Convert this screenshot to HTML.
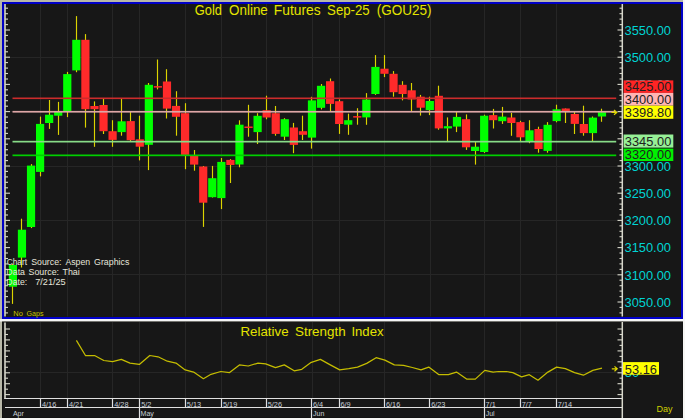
<!DOCTYPE html>
<html><head><meta charset="utf-8"><style>
html,body{margin:0;padding:0;background:#b8b8a8;}
body{width:685px;height:420px;overflow:hidden;}
svg{display:block;font-family:"Liberation Sans",sans-serif;}
</style></head><body>
<svg width="685" height="420" viewBox="0 0 685 420">

<rect x="0" y="0" width="685" height="420" fill="#b8b8a8"/>
<rect x="683" y="0" width="2" height="420" fill="#f6f6f4"/>
<rect x="0" y="418" width="685" height="2" fill="#f6f6f4"/>
<rect x="2" y="2" width="681" height="317" fill="#0000c8"/>
<rect x="4" y="4" width="677" height="313" fill="#171717"/>
<rect x="0" y="319" width="684" height="2.5" fill="#f4f4f4"/>
<rect x="2" y="321.5" width="681" height="96.5" fill="#101010"/>
<rect x="3" y="322" width="679.5" height="95.5" fill="#171717"/>
<g stroke="#262626" stroke-width="1"><line x1="40.5" y1="4" x2="40.5" y2="316.5" /><line x1="67.5" y1="4" x2="67.5" y2="316.5" /><line x1="112.5" y1="4" x2="112.5" y2="316.5" /><line x1="139.5" y1="4" x2="139.5" y2="316.5" /><line x1="185.5" y1="4" x2="185.5" y2="316.5" /><line x1="221.5" y1="4" x2="221.5" y2="316.5" /><line x1="266.5" y1="4" x2="266.5" y2="316.5" /><line x1="312.5" y1="4" x2="312.5" y2="316.5" /><line x1="339.5" y1="4" x2="339.5" y2="316.5" /><line x1="384.5" y1="4" x2="384.5" y2="316.5" /><line x1="430.5" y1="4" x2="430.5" y2="316.5" /><line x1="484.5" y1="4" x2="484.5" y2="316.5" /><line x1="520.5" y1="4" x2="520.5" y2="316.5" /><line x1="556.5" y1="4" x2="556.5" y2="316.5" /><line x1="6" y1="57.5" x2="622" y2="57.5" /><line x1="6" y1="111.5" x2="622" y2="111.5" /><line x1="6" y1="166.5" x2="622" y2="166.5" /><line x1="6" y1="220.5" x2="622" y2="220.5" /><line x1="6" y1="274.5" x2="622" y2="274.5" /><line x1="40.5" y1="322" x2="40.5" y2="398.6" /><line x1="67.5" y1="322" x2="67.5" y2="398.6" /><line x1="112.5" y1="322" x2="112.5" y2="398.6" /><line x1="139.5" y1="322" x2="139.5" y2="398.6" /><line x1="185.5" y1="322" x2="185.5" y2="398.6" /><line x1="221.5" y1="322" x2="221.5" y2="398.6" /><line x1="266.5" y1="322" x2="266.5" y2="398.6" /><line x1="312.5" y1="322" x2="312.5" y2="398.6" /><line x1="339.5" y1="322" x2="339.5" y2="398.6" /><line x1="384.5" y1="322" x2="384.5" y2="398.6" /><line x1="430.5" y1="322" x2="430.5" y2="398.6" /><line x1="484.5" y1="322" x2="484.5" y2="398.6" /><line x1="520.5" y1="322" x2="520.5" y2="398.6" /><line x1="556.5" y1="322" x2="556.5" y2="398.6" /><line x1="6" y1="372.5" x2="622" y2="372.5" /></g>
<line x1="12.50" y1="264.0" x2="12.50" y2="303.9" stroke="#dcd400" stroke-width="1.15"/><line x1="21.50" y1="218.7" x2="21.50" y2="267.5" stroke="#dcd400" stroke-width="1.15"/><line x1="31.50" y1="164.1" x2="31.50" y2="228.1" stroke="#dcd400" stroke-width="1.15"/><line x1="40.50" y1="116.6" x2="40.50" y2="176.4" stroke="#dcd400" stroke-width="1.15"/><line x1="49.50" y1="100.0" x2="49.50" y2="128.9" stroke="#dcd400" stroke-width="1.15"/><line x1="58.50" y1="101.9" x2="58.50" y2="134.9" stroke="#dcd400" stroke-width="1.15"/><line x1="67.50" y1="71.9" x2="67.50" y2="117.1" stroke="#dcd400" stroke-width="1.15"/><line x1="76.50" y1="16.1" x2="76.50" y2="72.2" stroke="#dcd400" stroke-width="1.15"/><line x1="85.50" y1="34.1" x2="85.50" y2="127.6" stroke="#dcd400" stroke-width="1.15"/><line x1="94.50" y1="101.4" x2="94.50" y2="146.8" stroke="#dcd400" stroke-width="1.15"/><line x1="103.50" y1="98.2" x2="103.50" y2="134.0" stroke="#dcd400" stroke-width="1.15"/><line x1="112.50" y1="120.2" x2="112.50" y2="146.8" stroke="#dcd400" stroke-width="1.15"/><line x1="121.50" y1="98.4" x2="121.50" y2="135.7" stroke="#dcd400" stroke-width="1.15"/><line x1="130.50" y1="112.0" x2="130.50" y2="141.2" stroke="#dcd400" stroke-width="1.15"/><line x1="139.50" y1="115.7" x2="139.50" y2="160.4" stroke="#dcd400" stroke-width="1.15"/><line x1="148.50" y1="83.0" x2="148.50" y2="170.1" stroke="#dcd400" stroke-width="1.15"/><line x1="157.50" y1="59.5" x2="157.50" y2="89.4" stroke="#dcd400" stroke-width="1.15"/><line x1="166.50" y1="69.2" x2="166.50" y2="118.5" stroke="#dcd400" stroke-width="1.15"/><line x1="176.50" y1="91.2" x2="176.50" y2="135.7" stroke="#dcd400" stroke-width="1.15"/><line x1="185.50" y1="103.2" x2="185.50" y2="169.2" stroke="#dcd400" stroke-width="1.15"/><line x1="194.50" y1="150.0" x2="194.50" y2="170.7" stroke="#dcd400" stroke-width="1.15"/><line x1="203.50" y1="166.0" x2="203.50" y2="226.9" stroke="#dcd400" stroke-width="1.15"/><line x1="212.50" y1="165.9" x2="212.50" y2="197.5" stroke="#dcd400" stroke-width="1.15"/><line x1="221.50" y1="158.0" x2="221.50" y2="209.1" stroke="#dcd400" stroke-width="1.15"/><line x1="230.50" y1="159.1" x2="230.50" y2="183.0" stroke="#dcd400" stroke-width="1.15"/><line x1="239.50" y1="120.3" x2="239.50" y2="167.3" stroke="#dcd400" stroke-width="1.15"/><line x1="248.50" y1="104.8" x2="248.50" y2="136.7" stroke="#dcd400" stroke-width="1.15"/><line x1="257.50" y1="113.2" x2="257.50" y2="144.0" stroke="#dcd400" stroke-width="1.15"/><line x1="266.50" y1="95.7" x2="266.50" y2="119.3" stroke="#dcd400" stroke-width="1.15"/><line x1="275.50" y1="106.0" x2="275.50" y2="135.7" stroke="#dcd400" stroke-width="1.15"/><line x1="284.50" y1="118.2" x2="284.50" y2="140.0" stroke="#dcd400" stroke-width="1.15"/><line x1="293.50" y1="122.9" x2="293.50" y2="153.2" stroke="#dcd400" stroke-width="1.15"/><line x1="302.50" y1="115.7" x2="302.50" y2="140.0" stroke="#dcd400" stroke-width="1.15"/><line x1="311.50" y1="96.8" x2="311.50" y2="148.6" stroke="#dcd400" stroke-width="1.15"/><line x1="321.50" y1="84.0" x2="321.50" y2="109.4" stroke="#dcd400" stroke-width="1.15"/><line x1="330.50" y1="78.5" x2="330.50" y2="111.1" stroke="#dcd400" stroke-width="1.15"/><line x1="339.50" y1="99.4" x2="339.50" y2="133.9" stroke="#dcd400" stroke-width="1.15"/><line x1="348.50" y1="113.7" x2="348.50" y2="134.8" stroke="#dcd400" stroke-width="1.15"/><line x1="357.50" y1="108.2" x2="357.50" y2="124.7" stroke="#dcd400" stroke-width="1.15"/><line x1="366.50" y1="93.1" x2="366.50" y2="124.8" stroke="#dcd400" stroke-width="1.15"/><line x1="375.50" y1="55.1" x2="375.50" y2="94.9" stroke="#dcd400" stroke-width="1.15"/><line x1="384.50" y1="55.1" x2="384.50" y2="77.1" stroke="#dcd400" stroke-width="1.15"/><line x1="393.50" y1="71.1" x2="393.50" y2="96.7" stroke="#dcd400" stroke-width="1.15"/><line x1="402.50" y1="81.2" x2="402.50" y2="100.4" stroke="#dcd400" stroke-width="1.15"/><line x1="411.50" y1="83.0" x2="411.50" y2="111.4" stroke="#dcd400" stroke-width="1.15"/><line x1="420.50" y1="94.9" x2="420.50" y2="115.6" stroke="#dcd400" stroke-width="1.15"/><line x1="429.50" y1="96.7" x2="429.50" y2="115.1" stroke="#dcd400" stroke-width="1.15"/><line x1="438.50" y1="85.7" x2="438.50" y2="129.7" stroke="#dcd400" stroke-width="1.15"/><line x1="447.50" y1="117.4" x2="447.50" y2="141.2" stroke="#dcd400" stroke-width="1.15"/><line x1="456.50" y1="111.9" x2="456.50" y2="132.1" stroke="#dcd400" stroke-width="1.15"/><line x1="466.50" y1="114.4" x2="466.50" y2="149.9" stroke="#dcd400" stroke-width="1.15"/><line x1="475.50" y1="142.0" x2="475.50" y2="164.6" stroke="#dcd400" stroke-width="1.15"/><line x1="484.50" y1="114.7" x2="484.50" y2="152.9" stroke="#dcd400" stroke-width="1.15"/><line x1="493.50" y1="108.9" x2="493.50" y2="128.5" stroke="#dcd400" stroke-width="1.15"/><line x1="502.50" y1="106.9" x2="502.50" y2="123.9" stroke="#dcd400" stroke-width="1.15"/><line x1="511.50" y1="112.9" x2="511.50" y2="135.8" stroke="#dcd400" stroke-width="1.15"/><line x1="520.50" y1="120.8" x2="520.50" y2="141.3" stroke="#dcd400" stroke-width="1.15"/><line x1="529.50" y1="120.2" x2="529.50" y2="143.2" stroke="#dcd400" stroke-width="1.15"/><line x1="538.50" y1="126.7" x2="538.50" y2="152.7" stroke="#dcd400" stroke-width="1.15"/><line x1="547.50" y1="122.1" x2="547.50" y2="152.7" stroke="#dcd400" stroke-width="1.15"/><line x1="556.50" y1="104.7" x2="556.50" y2="122.3" stroke="#dcd400" stroke-width="1.15"/><line x1="565.50" y1="108.5" x2="565.50" y2="123.0" stroke="#dcd400" stroke-width="1.15"/><line x1="574.50" y1="112.0" x2="574.50" y2="134.0" stroke="#dcd400" stroke-width="1.15"/><line x1="583.50" y1="105.7" x2="583.50" y2="135.7" stroke="#dcd400" stroke-width="1.15"/><line x1="592.50" y1="116.5" x2="592.50" y2="141.0" stroke="#dcd400" stroke-width="1.15"/><line x1="601.50" y1="108.7" x2="601.50" y2="121.8" stroke="#dcd400" stroke-width="1.15"/><rect x="8.80" y="265.0" width="8.2" height="21.7" fill="#00ff00"/><rect x="17.86" y="229.7" width="8.2" height="27.9" fill="#00ff00"/><rect x="26.93" y="165.6" width="8.2" height="61.4" fill="#00ff00"/><rect x="35.99" y="123.9" width="8.2" height="48.0" fill="#00ff00"/><rect x="45.05" y="114.7" width="8.2" height="8.3" fill="#00ff00"/><rect x="54.12" y="112.0" width="8.2" height="3.7" fill="#00ff00"/><rect x="63.18" y="74.1" width="8.2" height="37.0" fill="#00ff00"/><rect x="72.24" y="39.8" width="8.2" height="30.6" fill="#00ff00"/><rect x="81.30" y="39.8" width="8.2" height="69.4" fill="#ff2a2a"/><rect x="90.37" y="106.0" width="8.2" height="3.2" fill="#ff2a2a"/><rect x="99.43" y="105.0" width="8.2" height="26.2" fill="#ff2a2a"/><rect x="108.49" y="131.2" width="8.2" height="8.7" fill="#ff2a2a"/><rect x="117.56" y="121.3" width="8.2" height="10.8" fill="#00ff00"/><rect x="126.62" y="121.1" width="8.2" height="19.1" fill="#ff2a2a"/><rect x="135.68" y="139.3" width="8.2" height="7.4" fill="#ff2a2a"/><rect x="144.75" y="84.8" width="8.2" height="60.0" fill="#00ff00"/><rect x="153.81" y="86.1" width="8.2" height="1.5" fill="#ff2a2a"/><rect x="162.87" y="81.5" width="8.2" height="27.1" fill="#ff2a2a"/><rect x="171.93" y="105.9" width="8.2" height="10.9" fill="#ff2a2a"/><rect x="181.00" y="113.2" width="8.2" height="41.7" fill="#ff2a2a"/><rect x="190.06" y="155.8" width="8.2" height="8.8" fill="#ff2a2a"/><rect x="199.12" y="166.5" width="8.2" height="36.2" fill="#ff2a2a"/><rect x="208.19" y="178.2" width="8.2" height="19.0" fill="#00ff00"/><rect x="217.25" y="161.9" width="8.2" height="36.2" fill="#00ff00"/><rect x="226.31" y="159.9" width="8.2" height="5.1" fill="#ff2a2a"/><rect x="235.38" y="124.7" width="8.2" height="39.8" fill="#00ff00"/><rect x="244.44" y="126.5" width="8.2" height="1.5" fill="#ff2a2a"/><rect x="253.50" y="115.8" width="8.2" height="16.3" fill="#00ff00"/><rect x="262.56" y="110.2" width="8.2" height="7.3" fill="#ff2a2a"/><rect x="271.63" y="113.2" width="8.2" height="20.7" fill="#ff2a2a"/><rect x="280.69" y="119.2" width="8.2" height="17.5" fill="#00ff00"/><rect x="289.75" y="127.5" width="8.2" height="17.4" fill="#ff2a2a"/><rect x="298.82" y="131.2" width="8.2" height="3.6" fill="#ff2a2a"/><rect x="307.88" y="100.4" width="8.2" height="37.2" fill="#00ff00"/><rect x="316.94" y="85.8" width="8.2" height="22.0" fill="#00ff00"/><rect x="326.00" y="81.2" width="8.2" height="22.7" fill="#ff2a2a"/><rect x="335.07" y="101.2" width="8.2" height="22.8" fill="#ff2a2a"/><rect x="344.13" y="120.2" width="8.2" height="4.5" fill="#00ff00"/><rect x="353.19" y="116.1" width="8.2" height="1.5" fill="#ff2a2a"/><rect x="362.26" y="99.5" width="8.2" height="17.9" fill="#00ff00"/><rect x="371.32" y="66.9" width="8.2" height="27.1" fill="#00ff00"/><rect x="380.38" y="68.7" width="8.2" height="5.1" fill="#ff2a2a"/><rect x="389.45" y="73.8" width="8.2" height="18.4" fill="#ff2a2a"/><rect x="398.51" y="84.8" width="8.2" height="9.2" fill="#ff2a2a"/><rect x="407.57" y="90.3" width="8.2" height="9.2" fill="#ff2a2a"/><rect x="416.63" y="96.7" width="8.2" height="11.0" fill="#ff2a2a"/><rect x="425.70" y="101.0" width="8.2" height="9.1" fill="#00ff00"/><rect x="434.76" y="95.8" width="8.2" height="32.6" fill="#ff2a2a"/><rect x="443.82" y="126.2" width="8.2" height="2.2" fill="#00ff00"/><rect x="452.89" y="116.9" width="8.2" height="9.7" fill="#00ff00"/><rect x="461.95" y="119.2" width="8.2" height="28.1" fill="#ff2a2a"/><rect x="471.01" y="146.7" width="8.2" height="4.3" fill="#00ff00"/><rect x="480.08" y="115.7" width="8.2" height="36.3" fill="#00ff00"/><rect x="489.14" y="115.1" width="8.2" height="5.1" fill="#ff2a2a"/><rect x="498.20" y="116.6" width="8.2" height="4.6" fill="#00ff00"/><rect x="507.26" y="117.5" width="8.2" height="5.5" fill="#ff2a2a"/><rect x="516.33" y="122.1" width="8.2" height="15.2" fill="#ff2a2a"/><rect x="525.39" y="130.3" width="8.2" height="11.0" fill="#00ff00"/><rect x="534.45" y="129.0" width="8.2" height="20.0" fill="#ff2a2a"/><rect x="543.52" y="124.8" width="8.2" height="26.1" fill="#00ff00"/><rect x="552.58" y="109.3" width="8.2" height="11.8" fill="#00ff00"/><rect x="561.64" y="108.5" width="8.2" height="2.7" fill="#ff2a2a"/><rect x="570.71" y="114.0" width="8.2" height="9.9" fill="#ff2a2a"/><rect x="579.77" y="124.0" width="8.2" height="9.1" fill="#ff2a2a"/><rect x="588.83" y="117.6" width="8.2" height="15.5" fill="#00ff00"/><rect x="597.89" y="112.2" width="8.2" height="4.3" fill="#00ff00"/>
<rect x="12.5" y="97.5" width="603.7" height="1.6" fill="#cc2c2c"/>
<rect x="12.5" y="110.9" width="603.7" height="1.7" fill="#dea6a6"/>
<rect x="12.5" y="140.8" width="603.7" height="1.7" fill="#88dc88"/>
<rect x="12.5" y="154.5" width="603.7" height="1.7" fill="#00d000"/>
<text x="194.76" y="15.4" font-size="14" fill="#e4e400" textLength="27.17" lengthAdjust="spacingAndGlyphs" >Gold</text>
<text x="229.06" y="15.4" font-size="14" fill="#e4e400" textLength="38.74" lengthAdjust="spacingAndGlyphs" >Online</text>
<text x="273.87" y="15.4" font-size="14" fill="#e4e400" textLength="46.83" lengthAdjust="spacingAndGlyphs" >Futures</text>
<text x="327.09" y="15.4" font-size="14" fill="#e4e400" textLength="42.57" lengthAdjust="spacingAndGlyphs" >Sep-25</text>
<text x="376.66" y="15.4" font-size="14" fill="#e4e400" textLength="54.85" lengthAdjust="spacingAndGlyphs" >(GOU25)</text>
<text x="6.68" y="265.2" font-size="8.5" fill="#e6e6dc" textLength="20.38" lengthAdjust="spacingAndGlyphs" >Chart</text>
<text x="31.20" y="265.2" font-size="8.5" fill="#e6e6dc" textLength="30.32" lengthAdjust="spacingAndGlyphs" >Source:</text>
<text x="65.48" y="265.2" font-size="8.5" fill="#e6e6dc" textLength="24.67" lengthAdjust="spacingAndGlyphs" >Aspen</text>
<text x="94.06" y="265.2" font-size="8.5" fill="#e6e6dc" textLength="35.25" lengthAdjust="spacingAndGlyphs" >Graphics</text>
<text x="6.38" y="274.9" font-size="8.5" fill="#e6e6dc" textLength="18.63" lengthAdjust="spacingAndGlyphs" >Data</text>
<text x="28.59" y="274.9" font-size="8.5" fill="#e6e6dc" textLength="30.42" lengthAdjust="spacingAndGlyphs" >Source:</text>
<text x="62.50" y="274.9" font-size="8.5" fill="#e6e6dc" textLength="17.29" lengthAdjust="spacingAndGlyphs" >Thai</text>
<text x="6.38" y="284.8" font-size="8.5" fill="#e6e6dc" textLength="20.92" lengthAdjust="spacingAndGlyphs" >Date:</text>
<text x="35.23" y="284.8" font-size="8.5" fill="#e6e6dc" textLength="30.46" lengthAdjust="spacingAndGlyphs" >7/21/25</text>
<text x="13.29" y="315.8" font-size="7.3" fill="#c8c400" textLength="9.53" lengthAdjust="spacingAndGlyphs" >No</text>
<text x="26.55" y="315.8" font-size="7.3" fill="#c8c400" textLength="16.91" lengthAdjust="spacingAndGlyphs" >Gaps</text>
<line x1="5" y1="4" x2="5" y2="316.5" stroke="#d8d8cc" stroke-width="1.6"/><line x1="5" y1="8.2" x2="8" y2="8.2" stroke="#d8d8cc" stroke-width="1.1"/><line x1="619.5" y1="8.2" x2="622" y2="8.2" stroke="#d8d8cc" stroke-width="1.1"/><line x1="5" y1="13.7" x2="8" y2="13.7" stroke="#d8d8cc" stroke-width="1.1"/><line x1="619.5" y1="13.7" x2="622" y2="13.7" stroke="#d8d8cc" stroke-width="1.1"/><line x1="5" y1="19.1" x2="8" y2="19.1" stroke="#d8d8cc" stroke-width="1.1"/><line x1="619.5" y1="19.1" x2="622" y2="19.1" stroke="#d8d8cc" stroke-width="1.1"/><line x1="5" y1="24.6" x2="8" y2="24.6" stroke="#d8d8cc" stroke-width="1.1"/><line x1="619.5" y1="24.6" x2="622" y2="24.6" stroke="#d8d8cc" stroke-width="1.1"/><line x1="5" y1="30.0" x2="10" y2="30.0" stroke="#d8d8cc" stroke-width="1.1"/><line x1="617.5" y1="30.0" x2="622" y2="30.0" stroke="#d8d8cc" stroke-width="1.1"/><line x1="5" y1="35.4" x2="8" y2="35.4" stroke="#d8d8cc" stroke-width="1.1"/><line x1="619.5" y1="35.4" x2="622" y2="35.4" stroke="#d8d8cc" stroke-width="1.1"/><line x1="5" y1="40.9" x2="8" y2="40.9" stroke="#d8d8cc" stroke-width="1.1"/><line x1="619.5" y1="40.9" x2="622" y2="40.9" stroke="#d8d8cc" stroke-width="1.1"/><line x1="5" y1="46.3" x2="8" y2="46.3" stroke="#d8d8cc" stroke-width="1.1"/><line x1="619.5" y1="46.3" x2="622" y2="46.3" stroke="#d8d8cc" stroke-width="1.1"/><line x1="5" y1="51.8" x2="8" y2="51.8" stroke="#d8d8cc" stroke-width="1.1"/><line x1="619.5" y1="51.8" x2="622" y2="51.8" stroke="#d8d8cc" stroke-width="1.1"/><line x1="5" y1="57.2" x2="10" y2="57.2" stroke="#d8d8cc" stroke-width="1.1"/><line x1="617.5" y1="57.2" x2="622" y2="57.2" stroke="#d8d8cc" stroke-width="1.1"/><line x1="5" y1="62.6" x2="8" y2="62.6" stroke="#d8d8cc" stroke-width="1.1"/><line x1="619.5" y1="62.6" x2="622" y2="62.6" stroke="#d8d8cc" stroke-width="1.1"/><line x1="5" y1="68.1" x2="8" y2="68.1" stroke="#d8d8cc" stroke-width="1.1"/><line x1="619.5" y1="68.1" x2="622" y2="68.1" stroke="#d8d8cc" stroke-width="1.1"/><line x1="5" y1="73.5" x2="8" y2="73.5" stroke="#d8d8cc" stroke-width="1.1"/><line x1="619.5" y1="73.5" x2="622" y2="73.5" stroke="#d8d8cc" stroke-width="1.1"/><line x1="5" y1="79.0" x2="8" y2="79.0" stroke="#d8d8cc" stroke-width="1.1"/><line x1="619.5" y1="79.0" x2="622" y2="79.0" stroke="#d8d8cc" stroke-width="1.1"/><line x1="5" y1="84.4" x2="10" y2="84.4" stroke="#d8d8cc" stroke-width="1.1"/><line x1="617.5" y1="84.4" x2="622" y2="84.4" stroke="#d8d8cc" stroke-width="1.1"/><line x1="5" y1="89.8" x2="8" y2="89.8" stroke="#d8d8cc" stroke-width="1.1"/><line x1="619.5" y1="89.8" x2="622" y2="89.8" stroke="#d8d8cc" stroke-width="1.1"/><line x1="5" y1="95.3" x2="8" y2="95.3" stroke="#d8d8cc" stroke-width="1.1"/><line x1="619.5" y1="95.3" x2="622" y2="95.3" stroke="#d8d8cc" stroke-width="1.1"/><line x1="5" y1="100.7" x2="8" y2="100.7" stroke="#d8d8cc" stroke-width="1.1"/><line x1="619.5" y1="100.7" x2="622" y2="100.7" stroke="#d8d8cc" stroke-width="1.1"/><line x1="5" y1="106.2" x2="8" y2="106.2" stroke="#d8d8cc" stroke-width="1.1"/><line x1="619.5" y1="106.2" x2="622" y2="106.2" stroke="#d8d8cc" stroke-width="1.1"/><line x1="5" y1="111.6" x2="10" y2="111.6" stroke="#d8d8cc" stroke-width="1.1"/><line x1="617.5" y1="111.6" x2="622" y2="111.6" stroke="#d8d8cc" stroke-width="1.1"/><line x1="5" y1="117.0" x2="8" y2="117.0" stroke="#d8d8cc" stroke-width="1.1"/><line x1="619.5" y1="117.0" x2="622" y2="117.0" stroke="#d8d8cc" stroke-width="1.1"/><line x1="5" y1="122.5" x2="8" y2="122.5" stroke="#d8d8cc" stroke-width="1.1"/><line x1="619.5" y1="122.5" x2="622" y2="122.5" stroke="#d8d8cc" stroke-width="1.1"/><line x1="5" y1="127.9" x2="8" y2="127.9" stroke="#d8d8cc" stroke-width="1.1"/><line x1="619.5" y1="127.9" x2="622" y2="127.9" stroke="#d8d8cc" stroke-width="1.1"/><line x1="5" y1="133.4" x2="8" y2="133.4" stroke="#d8d8cc" stroke-width="1.1"/><line x1="619.5" y1="133.4" x2="622" y2="133.4" stroke="#d8d8cc" stroke-width="1.1"/><line x1="5" y1="138.8" x2="10" y2="138.8" stroke="#d8d8cc" stroke-width="1.1"/><line x1="617.5" y1="138.8" x2="622" y2="138.8" stroke="#d8d8cc" stroke-width="1.1"/><line x1="5" y1="144.2" x2="8" y2="144.2" stroke="#d8d8cc" stroke-width="1.1"/><line x1="619.5" y1="144.2" x2="622" y2="144.2" stroke="#d8d8cc" stroke-width="1.1"/><line x1="5" y1="149.7" x2="8" y2="149.7" stroke="#d8d8cc" stroke-width="1.1"/><line x1="619.5" y1="149.7" x2="622" y2="149.7" stroke="#d8d8cc" stroke-width="1.1"/><line x1="5" y1="155.1" x2="8" y2="155.1" stroke="#d8d8cc" stroke-width="1.1"/><line x1="619.5" y1="155.1" x2="622" y2="155.1" stroke="#d8d8cc" stroke-width="1.1"/><line x1="5" y1="160.6" x2="8" y2="160.6" stroke="#d8d8cc" stroke-width="1.1"/><line x1="619.5" y1="160.6" x2="622" y2="160.6" stroke="#d8d8cc" stroke-width="1.1"/><line x1="5" y1="166.0" x2="10" y2="166.0" stroke="#d8d8cc" stroke-width="1.1"/><line x1="617.5" y1="166.0" x2="622" y2="166.0" stroke="#d8d8cc" stroke-width="1.1"/><line x1="5" y1="171.4" x2="8" y2="171.4" stroke="#d8d8cc" stroke-width="1.1"/><line x1="619.5" y1="171.4" x2="622" y2="171.4" stroke="#d8d8cc" stroke-width="1.1"/><line x1="5" y1="176.9" x2="8" y2="176.9" stroke="#d8d8cc" stroke-width="1.1"/><line x1="619.5" y1="176.9" x2="622" y2="176.9" stroke="#d8d8cc" stroke-width="1.1"/><line x1="5" y1="182.3" x2="8" y2="182.3" stroke="#d8d8cc" stroke-width="1.1"/><line x1="619.5" y1="182.3" x2="622" y2="182.3" stroke="#d8d8cc" stroke-width="1.1"/><line x1="5" y1="187.8" x2="8" y2="187.8" stroke="#d8d8cc" stroke-width="1.1"/><line x1="619.5" y1="187.8" x2="622" y2="187.8" stroke="#d8d8cc" stroke-width="1.1"/><line x1="5" y1="193.2" x2="10" y2="193.2" stroke="#d8d8cc" stroke-width="1.1"/><line x1="617.5" y1="193.2" x2="622" y2="193.2" stroke="#d8d8cc" stroke-width="1.1"/><line x1="5" y1="198.6" x2="8" y2="198.6" stroke="#d8d8cc" stroke-width="1.1"/><line x1="619.5" y1="198.6" x2="622" y2="198.6" stroke="#d8d8cc" stroke-width="1.1"/><line x1="5" y1="204.1" x2="8" y2="204.1" stroke="#d8d8cc" stroke-width="1.1"/><line x1="619.5" y1="204.1" x2="622" y2="204.1" stroke="#d8d8cc" stroke-width="1.1"/><line x1="5" y1="209.5" x2="8" y2="209.5" stroke="#d8d8cc" stroke-width="1.1"/><line x1="619.5" y1="209.5" x2="622" y2="209.5" stroke="#d8d8cc" stroke-width="1.1"/><line x1="5" y1="215.0" x2="8" y2="215.0" stroke="#d8d8cc" stroke-width="1.1"/><line x1="619.5" y1="215.0" x2="622" y2="215.0" stroke="#d8d8cc" stroke-width="1.1"/><line x1="5" y1="220.4" x2="10" y2="220.4" stroke="#d8d8cc" stroke-width="1.1"/><line x1="617.5" y1="220.4" x2="622" y2="220.4" stroke="#d8d8cc" stroke-width="1.1"/><line x1="5" y1="225.8" x2="8" y2="225.8" stroke="#d8d8cc" stroke-width="1.1"/><line x1="619.5" y1="225.8" x2="622" y2="225.8" stroke="#d8d8cc" stroke-width="1.1"/><line x1="5" y1="231.3" x2="8" y2="231.3" stroke="#d8d8cc" stroke-width="1.1"/><line x1="619.5" y1="231.3" x2="622" y2="231.3" stroke="#d8d8cc" stroke-width="1.1"/><line x1="5" y1="236.7" x2="8" y2="236.7" stroke="#d8d8cc" stroke-width="1.1"/><line x1="619.5" y1="236.7" x2="622" y2="236.7" stroke="#d8d8cc" stroke-width="1.1"/><line x1="5" y1="242.2" x2="8" y2="242.2" stroke="#d8d8cc" stroke-width="1.1"/><line x1="619.5" y1="242.2" x2="622" y2="242.2" stroke="#d8d8cc" stroke-width="1.1"/><line x1="5" y1="247.6" x2="10" y2="247.6" stroke="#d8d8cc" stroke-width="1.1"/><line x1="617.5" y1="247.6" x2="622" y2="247.6" stroke="#d8d8cc" stroke-width="1.1"/><line x1="5" y1="253.0" x2="8" y2="253.0" stroke="#d8d8cc" stroke-width="1.1"/><line x1="619.5" y1="253.0" x2="622" y2="253.0" stroke="#d8d8cc" stroke-width="1.1"/><line x1="5" y1="258.5" x2="8" y2="258.5" stroke="#d8d8cc" stroke-width="1.1"/><line x1="619.5" y1="258.5" x2="622" y2="258.5" stroke="#d8d8cc" stroke-width="1.1"/><line x1="5" y1="263.9" x2="8" y2="263.9" stroke="#d8d8cc" stroke-width="1.1"/><line x1="619.5" y1="263.9" x2="622" y2="263.9" stroke="#d8d8cc" stroke-width="1.1"/><line x1="5" y1="269.4" x2="8" y2="269.4" stroke="#d8d8cc" stroke-width="1.1"/><line x1="619.5" y1="269.4" x2="622" y2="269.4" stroke="#d8d8cc" stroke-width="1.1"/><line x1="5" y1="274.8" x2="10" y2="274.8" stroke="#d8d8cc" stroke-width="1.1"/><line x1="617.5" y1="274.8" x2="622" y2="274.8" stroke="#d8d8cc" stroke-width="1.1"/><line x1="5" y1="280.2" x2="8" y2="280.2" stroke="#d8d8cc" stroke-width="1.1"/><line x1="619.5" y1="280.2" x2="622" y2="280.2" stroke="#d8d8cc" stroke-width="1.1"/><line x1="5" y1="285.7" x2="8" y2="285.7" stroke="#d8d8cc" stroke-width="1.1"/><line x1="619.5" y1="285.7" x2="622" y2="285.7" stroke="#d8d8cc" stroke-width="1.1"/><line x1="5" y1="291.1" x2="8" y2="291.1" stroke="#d8d8cc" stroke-width="1.1"/><line x1="619.5" y1="291.1" x2="622" y2="291.1" stroke="#d8d8cc" stroke-width="1.1"/><line x1="5" y1="296.6" x2="8" y2="296.6" stroke="#d8d8cc" stroke-width="1.1"/><line x1="619.5" y1="296.6" x2="622" y2="296.6" stroke="#d8d8cc" stroke-width="1.1"/><line x1="5" y1="302.0" x2="10" y2="302.0" stroke="#d8d8cc" stroke-width="1.1"/><line x1="617.5" y1="302.0" x2="622" y2="302.0" stroke="#d8d8cc" stroke-width="1.1"/><line x1="5" y1="307.4" x2="8" y2="307.4" stroke="#d8d8cc" stroke-width="1.1"/><line x1="619.5" y1="307.4" x2="622" y2="307.4" stroke="#d8d8cc" stroke-width="1.1"/><line x1="5" y1="312.9" x2="8" y2="312.9" stroke="#d8d8cc" stroke-width="1.1"/><line x1="619.5" y1="312.9" x2="622" y2="312.9" stroke="#d8d8cc" stroke-width="1.1"/><line x1="622.3" y1="4" x2="622.3" y2="316.5" stroke="#d8d8cc" stroke-width="1.5"/>
<text x="624.5" y="34.7" font-size="13" fill="#00d4d4" textLength="46.5" lengthAdjust="spacingAndGlyphs">3550.00</text><text x="624.5" y="61.9" font-size="13" fill="#00d4d4" textLength="46.5" lengthAdjust="spacingAndGlyphs">3500.00</text><text x="624.5" y="89.1" font-size="13" fill="#00d4d4" textLength="46.5" lengthAdjust="spacingAndGlyphs">3450.00</text><text x="624.5" y="170.7" font-size="13" fill="#00d4d4" textLength="46.5" lengthAdjust="spacingAndGlyphs">3300.00</text><text x="624.5" y="197.9" font-size="13" fill="#00d4d4" textLength="46.5" lengthAdjust="spacingAndGlyphs">3250.00</text><text x="624.5" y="225.1" font-size="13" fill="#00d4d4" textLength="46.5" lengthAdjust="spacingAndGlyphs">3200.00</text><text x="624.5" y="252.3" font-size="13" fill="#00d4d4" textLength="46.5" lengthAdjust="spacingAndGlyphs">3150.00</text><text x="624.5" y="279.5" font-size="13" fill="#00d4d4" textLength="46.5" lengthAdjust="spacingAndGlyphs">3100.00</text><text x="624.5" y="306.7" font-size="13" fill="#00d4d4" textLength="46.5" lengthAdjust="spacingAndGlyphs">3050.00</text>
<rect x="623.6" y="80.4" width="49.7" height="12.5" fill="#ff2424"/>
<text x="624.8" y="91.2" font-size="13" fill="#202020" textLength="46.5" lengthAdjust="spacingAndGlyphs">3425.00</text>
<rect x="623.6" y="92.9" width="49.7" height="12.8" fill="#ffb4b4"/>
<text x="624.8" y="103.9" font-size="13" fill="#202020" textLength="46.5" lengthAdjust="spacingAndGlyphs">3400.00</text>
<rect x="623.6" y="105.7" width="49.7" height="13.1" fill="#ffff00"/>
<text x="624.8" y="116.8" font-size="13" fill="#202020" textLength="46.5" lengthAdjust="spacingAndGlyphs">3398.80</text>
<rect x="623.6" y="134.5" width="49.7" height="13.1" fill="#96f096"/>
<text x="624.8" y="145.7" font-size="13" fill="#202020" textLength="46.5" lengthAdjust="spacingAndGlyphs">3345.00</text>
<rect x="623.6" y="148.6" width="49.7" height="12.4" fill="#00f000"/>
<text x="624.8" y="159.4" font-size="13" fill="#202020" textLength="46.5" lengthAdjust="spacingAndGlyphs">3320.00</text>
<path d="M611.5 112.4 H616.5 M614 110 L616.8 112.4 L614 114.8" stroke="#e0d800" stroke-width="1.2" fill="none"/>
<line x1="5" y1="322.5" x2="5" y2="399" stroke="#d8d8cc" stroke-width="1.6"/><line x1="622.3" y1="322" x2="622.3" y2="418" stroke="#d8d8cc" stroke-width="1.5"/><line x1="5" y1="329.0" x2="10" y2="329.0" stroke="#d8d8cc" stroke-width="1.1"/><line x1="617.5" y1="329.0" x2="622" y2="329.0" stroke="#d8d8cc" stroke-width="1.1"/><line x1="5" y1="334.5" x2="8" y2="334.5" stroke="#d8d8cc" stroke-width="1.1"/><line x1="619.5" y1="334.5" x2="622" y2="334.5" stroke="#d8d8cc" stroke-width="1.1"/><line x1="5" y1="339.9" x2="10" y2="339.9" stroke="#d8d8cc" stroke-width="1.1"/><line x1="617.5" y1="339.9" x2="622" y2="339.9" stroke="#d8d8cc" stroke-width="1.1"/><line x1="5" y1="345.4" x2="8" y2="345.4" stroke="#d8d8cc" stroke-width="1.1"/><line x1="619.5" y1="345.4" x2="622" y2="345.4" stroke="#d8d8cc" stroke-width="1.1"/><line x1="5" y1="350.9" x2="10" y2="350.9" stroke="#d8d8cc" stroke-width="1.1"/><line x1="617.5" y1="350.9" x2="622" y2="350.9" stroke="#d8d8cc" stroke-width="1.1"/><line x1="5" y1="356.4" x2="8" y2="356.4" stroke="#d8d8cc" stroke-width="1.1"/><line x1="619.5" y1="356.4" x2="622" y2="356.4" stroke="#d8d8cc" stroke-width="1.1"/><line x1="5" y1="361.8" x2="10" y2="361.8" stroke="#d8d8cc" stroke-width="1.1"/><line x1="617.5" y1="361.8" x2="622" y2="361.8" stroke="#d8d8cc" stroke-width="1.1"/><line x1="5" y1="367.3" x2="8" y2="367.3" stroke="#d8d8cc" stroke-width="1.1"/><line x1="619.5" y1="367.3" x2="622" y2="367.3" stroke="#d8d8cc" stroke-width="1.1"/><line x1="5" y1="372.8" x2="10" y2="372.8" stroke="#d8d8cc" stroke-width="1.1"/><line x1="617.5" y1="372.8" x2="622" y2="372.8" stroke="#d8d8cc" stroke-width="1.1"/><line x1="5" y1="378.2" x2="8" y2="378.2" stroke="#d8d8cc" stroke-width="1.1"/><line x1="619.5" y1="378.2" x2="622" y2="378.2" stroke="#d8d8cc" stroke-width="1.1"/><line x1="5" y1="383.7" x2="10" y2="383.7" stroke="#d8d8cc" stroke-width="1.1"/><line x1="617.5" y1="383.7" x2="622" y2="383.7" stroke="#d8d8cc" stroke-width="1.1"/><line x1="5" y1="389.2" x2="8" y2="389.2" stroke="#d8d8cc" stroke-width="1.1"/><line x1="619.5" y1="389.2" x2="622" y2="389.2" stroke="#d8d8cc" stroke-width="1.1"/><line x1="5" y1="394.6" x2="10" y2="394.6" stroke="#d8d8cc" stroke-width="1.1"/><line x1="617.5" y1="394.6" x2="622" y2="394.6" stroke="#d8d8cc" stroke-width="1.1"/>
<text x="240.51" y="335.8" font-size="13.5" fill="#e4e400" textLength="48.09" lengthAdjust="spacingAndGlyphs" >Relative</text>
<text x="294.98" y="335.8" font-size="13.5" fill="#e4e400" textLength="50.68" lengthAdjust="spacingAndGlyphs" >Strength</text>
<text x="351.39" y="335.8" font-size="13.5" fill="#e4e400" textLength="32.17" lengthAdjust="spacingAndGlyphs" >Index</text>
<polyline points="76.4,340.4 85.6,355.7 95,355.7 103.8,360.5 112.6,361.6 121.3,359.4 130,363.1 139.3,364.4 149.8,355.5 158.1,356.8 167.3,361.2 176,363.1 185.2,369.9 193.6,372.1 203.4,378.7 211,374.3 220.8,371.5 229.6,372.6 239.4,364.9 248.2,366 258,363.1 265.7,363.8 275.5,367.7 284.3,364.9 294.2,370.8 301.8,369.3 310.6,362.7 320.4,359.4 330.3,364.9 339.7,369.9 348.8,368.6 357.5,367.1 366.7,363.4 376.1,357.7 384.9,360.1 394.3,364.9 403.5,365.3 412.3,367.5 421,369.9 428.7,367.1 439,374.7 448.4,374.7 456.5,372.1 466.6,379.1 475.3,379.1 484.8,370.4 493.1,372.1 498.6,371.5 506.3,371.5 512.8,372.6 521.6,376.9 529.3,374.7 538,380.2 547.9,372.1 556.6,367.1 565.4,368.6 574.6,372.6 583.4,375.2 592.8,370.4 602,368.2" fill="none" stroke="#c4bc00" stroke-width="1.25" stroke-linejoin="round"/>
<path d="M611.8 368.8 H617 M614.5 366.4 L617.2 368.8 L614.5 371.2" stroke="#e0d800" stroke-width="1.2" fill="none"/>
<text x="624.8" y="377" font-size="13" fill="#00d4d4">50</text>
<rect x="623" y="362.1" width="36" height="12.6" fill="#ffff00"/>
<text x="624.8" y="373.5" font-size="13" fill="#202020" textLength="32.2" lengthAdjust="spacingAndGlyphs">53.16</text>
<line x1="4.5" y1="398.5" x2="622" y2="398.5" stroke="#e0e0e0" stroke-width="1.2"/><line x1="5" y1="407.5" x2="622" y2="407.5" stroke="#e0e0e0" stroke-width="1.2"/><line x1="40.5" y1="398.5" x2="40.5" y2="407.5" stroke="#e0e0e0" stroke-width="1.2"/><text x="41.94" y="407.0" font-size="8" fill="#c8d0d8" textLength="14.32" lengthAdjust="spacingAndGlyphs" >4/16</text><line x1="67.5" y1="398.5" x2="67.5" y2="407.5" stroke="#e0e0e0" stroke-width="1.2"/><text x="68.94" y="407.0" font-size="8" fill="#c8d0d8" textLength="14.32" lengthAdjust="spacingAndGlyphs" >4/21</text><line x1="112.5" y1="398.5" x2="112.5" y2="407.5" stroke="#e0e0e0" stroke-width="1.2"/><text x="114.24" y="407.0" font-size="8" fill="#c8d0d8" textLength="14.32" lengthAdjust="spacingAndGlyphs" >4/28</text><line x1="139.5" y1="398.5" x2="139.5" y2="407.5" stroke="#e0e0e0" stroke-width="1.2"/><text x="141.21" y="407.0" font-size="8" fill="#c8d0d8" textLength="10.23" lengthAdjust="spacingAndGlyphs" >5/2</text><line x1="185.5" y1="398.5" x2="185.5" y2="407.5" stroke="#e0e0e0" stroke-width="1.2"/><text x="186.81" y="407.0" font-size="8" fill="#c8d0d8" textLength="14.32" lengthAdjust="spacingAndGlyphs" >5/13</text><line x1="221.5" y1="398.5" x2="221.5" y2="407.5" stroke="#e0e0e0" stroke-width="1.2"/><text x="222.91" y="407.0" font-size="8" fill="#c8d0d8" textLength="14.32" lengthAdjust="spacingAndGlyphs" >5/19</text><line x1="266.5" y1="398.5" x2="266.5" y2="407.5" stroke="#e0e0e0" stroke-width="1.2"/><text x="267.71" y="407.0" font-size="8" fill="#c8d0d8" textLength="14.32" lengthAdjust="spacingAndGlyphs" >5/26</text><line x1="311.5" y1="398.5" x2="311.5" y2="407.5" stroke="#e0e0e0" stroke-width="1.2"/><text x="312.93" y="407.0" font-size="8" fill="#c8d0d8" textLength="10.23" lengthAdjust="spacingAndGlyphs" >6/4</text><line x1="339.5" y1="398.5" x2="339.5" y2="407.5" stroke="#e0e0e0" stroke-width="1.2"/><text x="340.43" y="407.0" font-size="8" fill="#c8d0d8" textLength="10.23" lengthAdjust="spacingAndGlyphs" >6/9</text><line x1="384.5" y1="398.5" x2="384.5" y2="407.5" stroke="#e0e0e0" stroke-width="1.2"/><text x="385.93" y="407.0" font-size="8" fill="#c8d0d8" textLength="14.32" lengthAdjust="spacingAndGlyphs" >6/16</text><line x1="429.5" y1="398.5" x2="429.5" y2="407.5" stroke="#e0e0e0" stroke-width="1.2"/><text x="431.13" y="407.0" font-size="8" fill="#c8d0d8" textLength="14.32" lengthAdjust="spacingAndGlyphs" >6/23</text><line x1="484.5" y1="398.5" x2="484.5" y2="407.5" stroke="#e0e0e0" stroke-width="1.2"/><text x="485.62" y="407.0" font-size="8" fill="#c8d0d8" textLength="10.23" lengthAdjust="spacingAndGlyphs" >7/1</text><line x1="520.5" y1="398.5" x2="520.5" y2="407.5" stroke="#e0e0e0" stroke-width="1.2"/><text x="521.72" y="407.0" font-size="8" fill="#c8d0d8" textLength="10.23" lengthAdjust="spacingAndGlyphs" >7/7</text><line x1="556.5" y1="398.5" x2="556.5" y2="407.5" stroke="#e0e0e0" stroke-width="1.2"/><text x="557.82" y="407.0" font-size="8" fill="#c8d0d8" textLength="14.32" lengthAdjust="spacingAndGlyphs" >7/14</text><line x1="139.5" y1="407.5" x2="139.5" y2="418" stroke="#e0e0e0" stroke-width="1.2"/><line x1="311.5" y1="407.5" x2="311.5" y2="418" stroke="#e0e0e0" stroke-width="1.2"/><line x1="484.5" y1="407.5" x2="484.5" y2="418" stroke="#e0e0e0" stroke-width="1.2"/><text x="12.89" y="415.7" font-size="8" fill="#c8d0d8" textLength="10.96" lengthAdjust="spacingAndGlyphs" >Apr</text><text x="140.52" y="415.7" font-size="8" fill="#c8d0d8" textLength="13.30" lengthAdjust="spacingAndGlyphs" >May</text><text x="313.09" y="415.7" font-size="8" fill="#c8d0d8" textLength="11.35" lengthAdjust="spacingAndGlyphs" >Jun</text><text x="485.69" y="415.7" font-size="8" fill="#c8d0d8" textLength="9.00" lengthAdjust="spacingAndGlyphs" >Jul</text>
<text x="656.56" y="411.6" font-size="8.7" fill="#d0d000" textLength="16.06" lengthAdjust="spacingAndGlyphs" >Day</text>
</svg></body></html>
